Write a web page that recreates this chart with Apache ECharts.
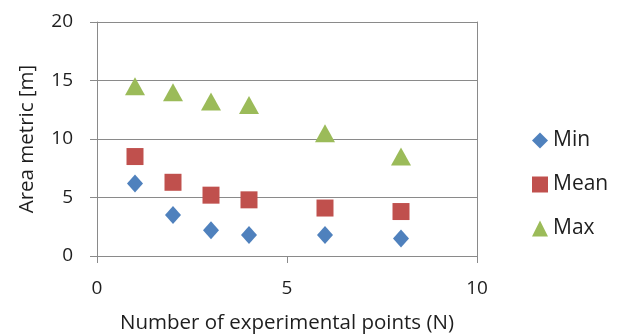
<!DOCTYPE html>
<html><head><meta charset="utf-8">
<script src="https://cdn.jsdelivr.net/npm/echarts@6/dist/echarts.min.js"></script>
<style>html,body{margin:0;padding:0;background:#fff}#c{width:618px;height:335px}</style>
</head><body><div id="c"></div>
<script>
const xValues = [1, 2, 3, 4, 6, 8];
const minValues = [6.2, 3.5, 2.2, 1.8, 1.8, 1.5];
const meanValues = [8.5, 6.3, 5.2, 4.8, 4.1, 3.8];
const maxValues = [14.5, 14.0, 13.2, 12.9, 10.5, 8.5];
const seriesNames = ['Min', 'Mean', 'Max'];

const font = '"Open Sans", sans-serif';
const txt = '#1e1e1e';
const gray = '#8a8a8a';
const pair = (ys) => xValues.map((x, i) => [x, ys[i]]);

const chart = echarts.init(document.getElementById('c'));
chart.setOption({
  animation: false,
  grid: {left: 97, right: 141, top: 22, bottom: 79, outerBoundsMode: 'none', containLabel: false},
  legend: {
    orient: 'vertical', left: 527, top: 125, itemGap: 23,
    itemWidth: 16, itemHeight: 16,
    textStyle: {fontFamily: font, fontSize: 21, color: txt},
    data: seriesNames
  },
  xAxis: {
    type: 'value', min: 0, max: 10, interval: 5,
    name: 'Number of experimental points (N)', nameLocation: 'middle', nameGap: 57,
    nameTextStyle: {fontFamily: font, fontSize: 20.5, color: txt},
    axisLine: {show: true, lineStyle: {color: gray, width: 1}},
    axisTick: {show: true, length: 7, lineStyle: {color: gray}},
    axisLabel: {fontFamily: font, fontSize: 19, color: txt, margin: 23},
    splitLine: {show: false}
  },
  yAxis: [{
    type: 'value', min: 0, max: 20, interval: 5,
    name: 'Area metric [m]', nameLocation: 'middle', nameGap: 59,
    nameTextStyle: {fontFamily: font, fontSize: 20.5, color: txt},
    axisLine: {show: true, lineStyle: {color: gray, width: 1}},
    axisTick: {show: true, length: 7, lineStyle: {color: gray}},
    axisLabel: {fontFamily: font, fontSize: 19, color: txt, margin: 24},
    splitLine: {show: true, lineStyle: {color: gray, width: 1}}
  }, {
    type: 'value', min: 0, max: 20, interval: 5, position: 'right',
    axisLine: {show: true, lineStyle: {color: gray, width: 1}},
    axisTick: {show: false}, axisLabel: {show: false}, splitLine: {show: false}
  }],
  series: [
    {name: 'Min', type: 'scatter', symbol: 'diamond', symbolSize: [16, 18],
     itemStyle: {color: '#4F81BD', opacity: 1}, data: pair(minValues)},
    {name: 'Mean', type: 'scatter', symbol: 'rect', symbolSize: [17, 17],
     itemStyle: {color: '#C0504D', opacity: 1}, data: pair(meanValues)},
    {name: 'Max', type: 'scatter', symbol: 'triangle', symbolSize: [20, 18],
     itemStyle: {color: '#9BBB59', opacity: 1}, data: pair(maxValues)}
  ]
});
</script></body></html>
